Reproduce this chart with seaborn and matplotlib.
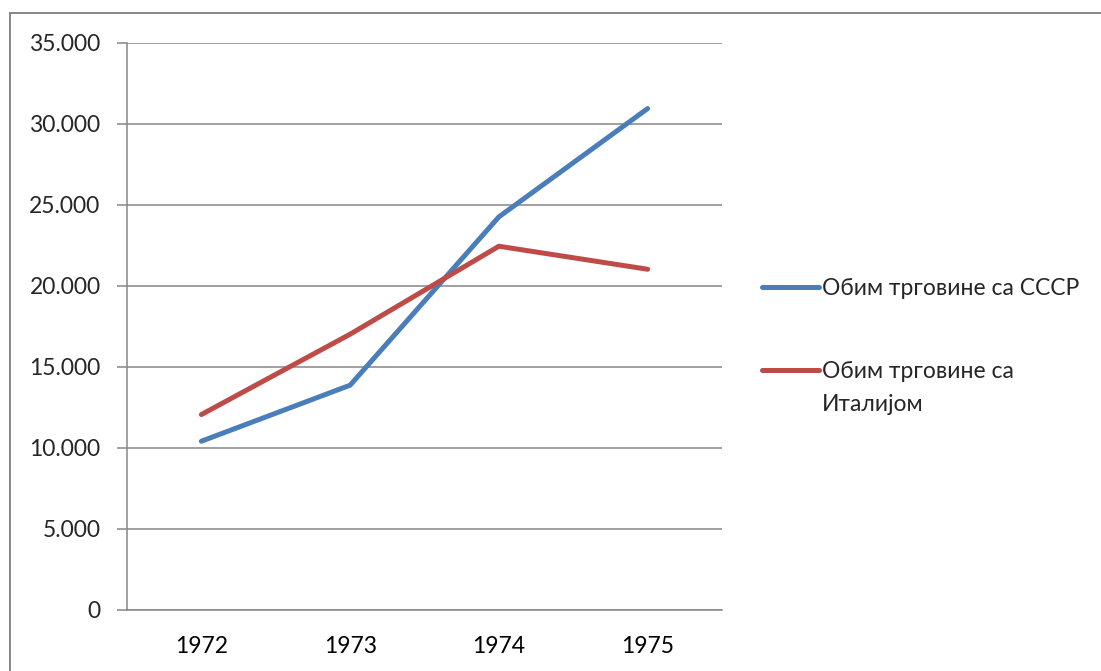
import matplotlib
matplotlib.use("Agg")
import matplotlib.pyplot as plt
from matplotlib.patches import Rectangle
from matplotlib.ticker import FuncFormatter, FixedLocator
import seaborn as sns
import pandas as pd

# Data
years = ["1972", "1973", "1974", "1975"]
ussr_trade = [10410, 13865, 24245, 30925]
italy_trade = [12055, 17010, 22435, 21015]
series_names = ["Обим трговине са СССР", "Обим трговине са Италијом"]
series_colors = ["#4A7EBB", "#BE4B48"]
y_ticks = [0, 5000, 10000, 15000, 20000, 25000, 30000, 35000]

df = pd.DataFrame(
    {
        "year": years * 2,
        "value": ussr_trade + italy_trade,
        "series": [series_names[0]] * len(years) + [series_names[1]] * len(years),
    }
)

sns.set_style("white")
plt.rcParams["font.family"] = ["Lato", "DejaVu Sans"]

grid_gray = "#868686"
fsize = 16.5

fig = plt.figure(figsize=(11.01, 6.71), dpi=100)
ax = fig.add_axes([127 / 1101, 1 - 610 / 671, (722 - 127) / 1101, (610 - 42.5) / 671])

# outer chart border (only top and left visible in reference)
fig.patches.append(
    Rectangle((10 / 1101, -0.2), 1.5, 0.2 + (1 - 13 / 671),
              transform=fig.transFigure, fill=False, edgecolor=grid_gray, linewidth=1.4)
)

sns.lineplot(
    data=df, x="year", y="value", hue="series", hue_order=series_names,
    palette=series_colors, linewidth=3.6, ax=ax, sort=False,
    solid_capstyle="round", solid_joinstyle="round",
)

ax.set_xlim(-0.5, len(years) - 0.5)
ax.set_ylim(0, 35000)
ax.set_yticks(y_ticks)
ax.yaxis.set_major_formatter(FuncFormatter(lambda v, p: f"{int(v):,}".replace(",", ".")))
ax.grid(axis="y", color=grid_gray, linewidth=1.1)
ax.set_axisbelow(True)

# category labels in the middle, tick marks on the boundaries
ax.set_xticks(range(len(years)))
ax.set_xticklabels(years)
ax.xaxis.set_minor_locator(FixedLocator([i - 0.5 for i in range(len(years) + 1)]))
ax.tick_params(axis="x", which="major", length=0, pad=19, labelsize=fsize, colors="black")
ax.tick_params(axis="x", which="minor", length=6, width=1.1, color=grid_gray, direction="out")
ax.tick_params(axis="y", length=7, width=1.1, color=grid_gray, pad=12, labelsize=fsize,
               direction="out", left=True)

for side in ["top", "right"]:
    ax.spines[side].set_visible(False)
for side in ["left", "bottom"]:
    ax.spines[side].set_color(grid_gray)
    ax.spines[side].set_linewidth(1.1)

ax.set_xlabel("")
ax.set_ylabel("")

handles, labels = ax.get_legend_handles_labels()
leg = ax.legend(
    handles, labels, loc="upper left", bbox_to_anchor=(762 / 1101, 1 - 278 / 671),
    bbox_transform=fig.transFigure, frameon=False, fontsize=fsize,
    handlelength=2.5, handletextpad=0.1, labelspacing=2.7, borderaxespad=0, borderpad=0,
)

# wrap the second legend label like the reference: handle stays on the first line
second = leg.get_texts()[1]
first_line, rest = second.get_text().rsplit(" ", 1)
second.set_text(first_line)
fig.canvas.draw()
bb = second.get_window_extent()
fig.text(bb.x0 / fig.bbox.width, (bb.y0 - 33) / fig.bbox.height, rest,
         fontsize=fsize, va="bottom", ha="left")

fig.savefig("out.png", dpi=100)
